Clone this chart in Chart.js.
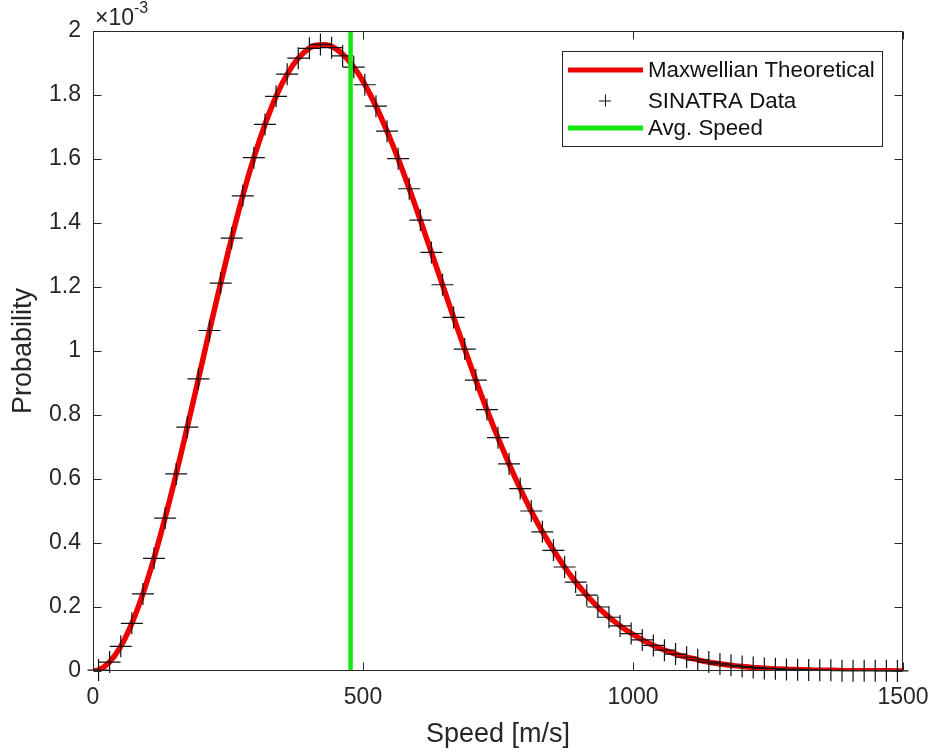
<!DOCTYPE html>
<html>
<head>
<meta charset="utf-8">
<script src="https://cdn.jsdelivr.net/npm/chart.js@4.4.1/dist/chart.umd.min.js"></script>
<style>
  html, body { margin: 0; padding: 0; background: #ffffff; }
  #wrap { width: 937px; height: 755px; position: relative; }
</style>
</head>
<body>
<div id="wrap"><canvas id="c" width="937" height="755"></canvas></div>
<script>
// ---- Data (probability values in units of 1e-3) ----
const theorySpeed = [0, 10, 30, 50, 70, 90, 110, 130, 150, 170, 190, 210, 230, 250, 270, 290, 310, 330, 350, 370, 390,
  410, 430, 450, 470, 490, 510, 530, 550, 570, 590, 610, 630, 650, 670, 690, 710, 730, 750, 770, 790,
  810, 830, 850, 870, 890, 910, 930, 950, 970, 990, 1010, 1030, 1050, 1070, 1090, 1110, 1130, 1150, 1170, 1190,
  1210, 1230, 1250, 1270, 1290, 1310, 1330, 1350, 1370, 1390, 1410, 1430, 1450, 1470, 1490, 1500];
const theoryProb = [0, 0.003, 0.027, 0.073, 0.141, 0.229, 0.335, 0.456, 0.588, 0.729, 0.874, 1.022, 1.167, 1.307, 1.439, 1.560, 1.667, 1.759, 1.835, 1.893, 1.932,
  1.954, 1.957, 1.944, 1.914, 1.870, 1.812, 1.743, 1.665, 1.579, 1.487, 1.390, 1.292, 1.193, 1.094, 0.998, 0.904, 0.814, 0.729, 0.649, 0.574,
  0.505, 0.442, 0.385, 0.333, 0.286, 0.245, 0.208, 0.176, 0.149, 0.125, 0.104, 0.086, 0.071, 0.058, 0.047, 0.039, 0.031, 0.025, 0.020, 0.016,
  0.013, 0.010, 0.008, 0.006, 0.005, 0.004, 0.003, 0.002, 0.002, 0.001, 0.001, 0.001, 0.0005, 0.0004, 0.0003, 0.0003];

const dataSpeed = [10.3, 30.8, 51.4, 71.9, 92.5, 113.0, 133.6, 154.1, 174.7, 195.2, 215.8, 236.3, 256.8, 277.4, 297.9, 318.5, 339.0, 359.6, 380.1, 400.7,
  421.2, 441.8, 462.3, 482.9, 503.4, 524.0, 544.5, 565.1, 585.6, 606.2, 626.7, 647.3, 667.8, 688.4, 708.9, 729.5, 750.0, 770.5, 791.1, 811.6,
  832.2, 852.7, 873.3, 893.8, 914.4, 934.9, 955.5, 976.0, 996.6, 1017.1, 1037.7, 1058.2, 1078.8, 1099.3, 1119.9, 1140.4, 1161.0, 1181.5, 1202.1, 1222.6,
  1243.2, 1263.7, 1284.2, 1304.8, 1325.3, 1345.9, 1366.4, 1387.0, 1407.5, 1428.1, 1448.6, 1469.2, 1489.7];
const dataProb = [0.003, 0.028, 0.077, 0.149, 0.241, 0.352, 0.478, 0.616, 0.762, 0.913, 1.064, 1.212, 1.353, 1.485, 1.604, 1.708, 1.796, 1.865, 1.915, 1.946,
  1.958, 1.948, 1.922, 1.887, 1.832, 1.765, 1.687, 1.601, 1.507, 1.409, 1.308, 1.207, 1.105, 1.006, 0.909, 0.817, 0.729, 0.647, 0.570, 0.500,
  0.435, 0.377, 0.325, 0.278, 0.237, 0.200, 0.168, 0.141, 0.117, 0.097, 0.080, 0.065, 0.053, 0.043, 0.035, 0.028, 0.022, 0.018, 0.014, 0.011,
  0.008, 0.007, 0.005, 0.004, 0.003, 0.002, 0.002, 0.001, 0.001, 0.001, 0.001, 0.0004, 0.0003];

const avgSpeed = 477;
const xTicks = [0, 500, 1000, 1500];
const yTicks = [0, 0.2, 0.4, 0.6, 0.8, 1, 1.2, 1.4, 1.6, 1.8, 2];
const seriesLabels = ['Maxwellian Theoretical', 'SINATRA Data', 'Avg. Speed'];
const xTitle = 'Speed [m/s]';
const yTitle = 'Probability';
const exponentText = ['\u00d710', '-3'];

const FONT = '"Liberation Sans", Arial, Helvetica, sans-serif';
const AX = '#262626';
const RED = '#ee0000';
const GREEN = '#13e813';

const boxAndTicks = {
  id: 'boxAndTicks',
  afterDatasetsDraw(chart) {
    const {ctx, chartArea: a, scales: {x, y}} = chart;
    ctx.save();
    ctx.strokeStyle = AX;
    ctx.lineWidth = 1;
    const L = Math.round(a.left) + 0.5, R = Math.round(a.right) - 0.5;
    const T = Math.round(a.top) + 0.5, B = Math.round(a.bottom) - 0.5;
    ctx.beginPath();
    ctx.rect(L, T, R - L, B - T);
    ctx.stroke();
    const tl = 8;
    ctx.beginPath();
    xTicks.forEach(v => {
      const px = Math.round(x.getPixelForValue(v)) + 0.5;
      ctx.moveTo(px, B); ctx.lineTo(px, B - tl);
      ctx.moveTo(px, T); ctx.lineTo(px, T + tl);
    });
    yTicks.forEach(v => {
      const py = Math.round(y.getPixelForValue(v)) + 0.5;
      ctx.moveTo(L, py); ctx.lineTo(L + tl, py);
      ctx.moveTo(R, py); ctx.lineTo(R - tl, py);
    });
    ctx.stroke();

    // exponent label
    ctx.fillStyle = AX;
    ctx.textBaseline = 'alphabetic';
    ctx.textAlign = 'left';
    ctx.font = '23px ' + FONT;
    ctx.fillText(exponentText[0], 95, 25);
    const w = ctx.measureText(exponentText[0]).width;
    ctx.font = '16px ' + FONT;
    ctx.fillText(exponentText[1], 95 + w, 13);

    // legend
    const lx = 562.5, ly = 51.5, lw = 320, lh = 95;
    ctx.fillStyle = '#ffffff';
    ctx.fillRect(lx, ly, lw, lh);
    ctx.strokeStyle = AX;
    ctx.strokeRect(lx, ly, lw, lh);
    const rows = [70, 100.5, 128];
    ctx.lineCap = 'butt';
    ctx.lineWidth = 5;
    ctx.strokeStyle = RED;
    ctx.beginPath(); ctx.moveTo(568, rows[0]); ctx.lineTo(643, rows[0]); ctx.stroke();
    ctx.strokeStyle = GREEN;
    ctx.beginPath(); ctx.moveTo(568, rows[2]); ctx.lineTo(643, rows[2]); ctx.stroke();
    ctx.lineWidth = 1;
    ctx.strokeStyle = '#111111';
    ctx.beginPath();
    ctx.moveTo(599, rows[1] + 0.5); ctx.lineTo(611, rows[1] + 0.5);
    ctx.moveTo(605.5, rows[1] - 6); ctx.lineTo(605.5, rows[1] + 6);
    ctx.stroke();
    ctx.fillStyle = '#111111';
    ctx.font = '22.3px ' + FONT;
    ctx.textBaseline = 'middle';
    seriesLabels.forEach((s, i) => ctx.fillText(s, 648, rows[i] + 1));
    ctx.restore();
  }
};

new Chart(document.getElementById('c'), {
  type: 'scatter',
  data: {
    datasets: [
      {
        label: seriesLabels[0],
        data: theorySpeed.map((v, i) => ({x: v, y: theoryProb[i]})),
        showLine: true,
        borderColor: RED,
        backgroundColor: RED,
        borderWidth: 5.5,
        pointRadius: 0,
        cubicInterpolationMode: 'monotone',
        order: 3
      },
      {
        label: seriesLabels[1],
        data: dataSpeed.map((v, i) => ({x: v, y: dataProb[i]})),
        showLine: false,
        pointStyle: 'cross',
        pointRadius: 11,
        pointBorderWidth: 1.2,
        pointBorderColor: '#111111',
        pointBackgroundColor: '#111111',
        clip: false,
        order: 2
      },
      {
        label: seriesLabels[2],
        data: [{x: avgSpeed, y: 0}, {x: avgSpeed, y: 2}],
        showLine: true,
        borderColor: GREEN,
        backgroundColor: GREEN,
        borderWidth: 4.5,
        pointRadius: 0,
        order: 1
      }
    ]
  },
  options: {
    responsive: false,
    animation: false,
    events: [],
    layout: { padding: { top: 31, right: 34, left: 0, bottom: 0 } },
    plugins: { legend: { display: false }, tooltip: { enabled: false } },
    scales: {
      x: {
        type: 'linear', min: 0, max: 1500,
        afterFit(s) { s.height = 84; s.paddingLeft = 0; s.paddingRight = 0; },
        afterBuildTicks(s) { s.ticks = xTicks.map(v => ({value: v})); },
        grid: { display: false, drawTicks: false },
        border: { display: false },
        ticks: { color: AX, padding: 13, font: { family: FONT, size: 23 }, maxRotation: 0,
          callback: v => String(v) },
        title: { display: true, text: xTitle, color: AX, font: { family: FONT, size: 27 }, padding: { top: 0, bottom: 4 } }
      },
      y: {
        type: 'linear', min: 0, max: 2,
        afterFit(s) { s.width = 93; s.paddingTop = 0; s.paddingBottom = 0; },
        afterBuildTicks(s) { s.ticks = yTicks.map(v => ({value: v})); },
        grid: { display: false, drawTicks: false },
        border: { display: false },
        ticks: {
          color: AX, padding: 12, font: { family: FONT, size: 23 },
          callback: v => String(Math.round(v * 10) / 10)
        },
        title: { display: true, text: yTitle, color: AX, font: { family: FONT, size: 27 }, padding: { top: 7, bottom: 0 } }
      }
    }
  },
  plugins: [boxAndTicks]
});
</script>
</body>
</html>
